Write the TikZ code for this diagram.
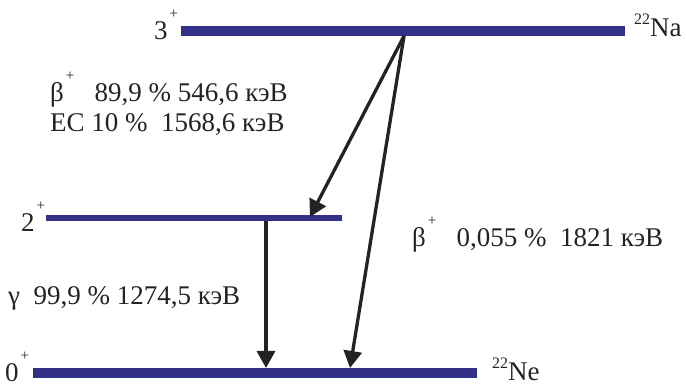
\documentclass[tikz,border=0pt]{standalone}
\usepackage{fontspec}
\setmainfont{Liberation Serif}
\usetikzlibrary{arrows.meta}
\definecolor{levelblue}{RGB}{50,48,135}
\definecolor{inkgray}{RGB}{35,35,35}
\newcommand{\spinlbl}[2]{#1\kern2pt\raisebox{21pt}{\fontsize{15}{15}\selectfont #2}}
\newcommand{\isolbl}[2]{\raisebox{12pt}{\fontsize{16}{16}\selectfont #1}#2}

\begin{document}
\begin{tikzpicture}[
  x=1pt, y=-1pt,
  font=\fontsize{27}{30}\selectfont,
  level/.style={draw=levelblue, line width=10pt},
  lbl/.style={anchor=base west, inner sep=0pt, text=inkgray},
  arr/.style={-{Triangle[length=17pt,width=18pt]}, line width=3.3pt, draw=inkgray}
]
\useasboundingbox (0,0) rectangle (686,387);

% levels
\coordinate (na-l) at (181,31);
\coordinate (na-r) at (625,31);
\coordinate (ne2-l) at (46,218);
\coordinate (ne2-r) at (342,218);
\coordinate (ne0-l) at (33,373);
\coordinate (ne0-r) at (477,373);
\draw[level] (na-l) -- (na-r);
\draw[level, line width=6pt] (ne2-l) -- (ne2-r);
\draw[level] (ne0-l) -- (ne0-r);

% spins and nuclei
\node[lbl] (spin3) at (154,40) {\spinlbl{3}{+}};
\node[lbl] (spin2) at (21,232) {\spinlbl{2}{+}};
\node[lbl] (spin0) at (5,382) {\spinlbl{0}{+}};
\node[lbl] (na) at (634,37) {\isolbl{22}{Na}};
\node[lbl] (ne) at (492,381) {\isolbl{22}{Ne}};

% transitions
\coordinate (src) at (404,36);
\coordinate (tip2) at (310,217);
\coordinate (gsrc) at (266,221);
\coordinate (gtip) at (266,368);
\coordinate (tip0) at (350,368);
\draw[arr] (src) -- (tip2);
\draw[arr] (src) -- (tip0);
\draw[arr] (gsrc) -- (gtip);

% labels
\node[lbl] (beta1) at (50,102) {\spinlbl{β}{+}\ \ \ 89,9 \% 546,6 кэВ};
\node[lbl] (ec) at (50,132) {EC 10 \%\ \ 1568,6 кэВ};
\node[lbl] (gamma) at (8,305) {γ\ \ 99,9 \% 1274,5 кэВ};
\node[lbl] (beta2) at (412,247) {\spinlbl{β}{+}\ \ \ 0,055 \%\ \ 1821 кэВ};
\end{tikzpicture}
\end{document}
